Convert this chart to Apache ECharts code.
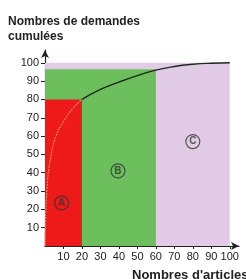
<!DOCTYPE html>
<html>
<head>
<meta charset="utf-8">
<script src="https://cdn.jsdelivr.net/npm/echarts@6/dist/echarts.min.js"></script>
<style>
html, body { margin: 0; padding: 0; background: #fff; }
#main { width: 246px; height: 279px; }
</style>
</head>
<body>
<div id="main"></div>
<script>
// zones A / B / C (x from, x to, height)
var zoneStart = [0, 0, 0];
var zoneEnd = [100, 60, 20];
var zoneTop = [100, 96.5, 80];

// cumulative curve, part inside zone A then the rest
var curveA = [[0, 0], [1, 30], [3, 48], [6, 60], [10, 68], [15, 75], [20, 80]];
var curveRest = [[20, 80], [30, 85.5], [40, 89.5], [50, 93], [60, 96], [70, 98], [80, 99.2], [90, 99.8], [100, 100]];

// circled letters
var letterNames = ['A', 'B', 'C'];
var letterX = [9, 39.5, 80];
var letterY = [23.5, 41, 57];

var tickValues = [10, 20, 30, 40, 50, 60, 70, 80, 90, 100];

var zoneColors = ['#e2cbe6', '#6cbf5c', '#ee1a1a'];

var zoneData = [];
for (var i = 0; i < zoneStart.length; i++) {
	zoneData.push([zoneStart[i], zoneEnd[i], zoneTop[i], i]);
}
var letterData = [];
for (var j = 0; j < letterNames.length; j++) {
	letterData.push({ name: letterNames[j], value: [letterX[j], letterY[j]] });
}

function renderZone(params, api) {
	var p0 = api.coord([api.value(0), 0]);
	var p1 = api.coord([api.value(1), api.value(2)]);
	return {
		type: 'rect',
		shape: { x: p0[0], y: p1[1], width: p1[0] - p0[0], height: p0[1] - p1[1] },
		style: { fill: zoneColors[api.value(3)] }
	};
}

var labelFont = {
	fontFamily: 'Liberation Sans',
	fontSize: 11,
	color: '#222'
};

var myChart = echarts.init(document.getElementById('main'));
var option = {
	animation: false,
	title: [{
		text: 'Nombres de demandes\ncumulées',
		left: 3,
		top: 9,
		textStyle: { fontFamily: 'Liberation Sans', fontSize: 12, fontWeight: 'bold', color: '#222', lineHeight: 15 }
	}, {
		text: "Nombres d'articles",
		left: 127,
		top: 264,
		textStyle: { fontFamily: 'Liberation Sans', fontSize: 13, fontWeight: 'bold', color: '#222' }
	}],
	grid: { left: 45, right: 7, top: 50, bottom: 33 },
	xAxis: {
		type: 'value',
		min: 0,
		max: 105,
		interval: 10,
		splitLine: { show: false },
		axisLine: { show: true, symbol: ['none', 'arrow'], symbolSize: [6, 8], lineStyle: { color: '#222', width: 1.2 } },
		axisTick: { show: true, length: 3, customValues: tickValues, lineStyle: { color: '#222' } },
		axisLabel: Object.assign({ customValues: tickValues, margin: 5 }, labelFont)
	},
	yAxis: {
		type: 'value',
		min: 0,
		max: 107,
		interval: 10,
		splitLine: { show: false },
		axisLine: { show: true, symbol: ['none', 'arrow'], symbolSize: [6, 8], lineStyle: { color: '#222', width: 1.2 } },
		axisTick: { show: true, length: 4, customValues: tickValues, lineStyle: { color: '#222' } },
		axisLabel: Object.assign({ customValues: tickValues, margin: 6 }, labelFont)
	},
	series: [{
		type: 'custom',
		renderItem: renderZone,
		data: zoneData,
		z: 1,
		silent: true
	}, {
		type: 'line',
		data: curveA,
		smooth: true,
		symbol: 'none',
		lineStyle: { color: '#f4866a', width: 1.2, type: [2, 1] },
		z: 3
	}, {
		type: 'line',
		data: curveRest,
		smooth: true,
		symbol: 'none',
		lineStyle: { color: '#1c2a1c', width: 1.4 },
		z: 3
	}, {
		type: 'scatter',
		data: letterData,
		symbol: 'circle',
		symbolSize: 14,
		itemStyle: { color: 'rgba(0,0,0,0)', borderColor: '#333', borderWidth: 1.2 },
		label: {
			show: true,
			position: 'inside',
			formatter: '{b}',
			fontFamily: 'Liberation Sans',
			fontSize: 10,
			fontWeight: 'bold',
			color: '#333'
		},
		z: 4
	}]
};
myChart.setOption(option);
</script>
</body>
</html>
